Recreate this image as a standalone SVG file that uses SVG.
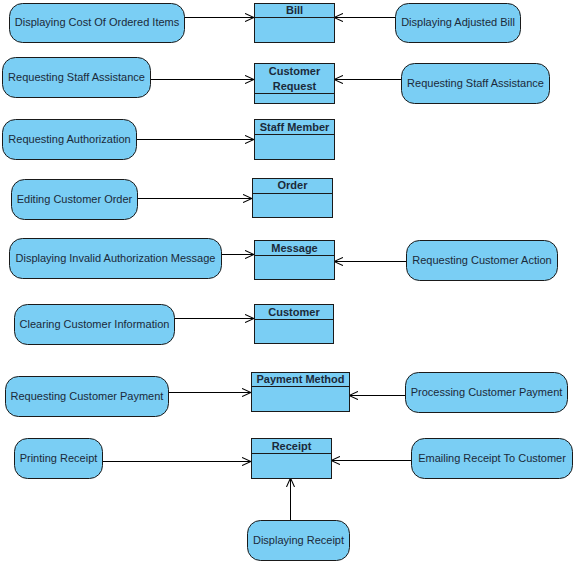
<svg xmlns="http://www.w3.org/2000/svg" width="575" height="564" viewBox="0 0 575 564">
  <style>
    .act { fill: #7acef4; stroke: #1a1a1a; stroke-width: 1; }
    .cls { fill: #7acef4; stroke: #1a1a1a; stroke-width: 1; }
    .div { stroke: #1a1a1a; stroke-width: 1; }
    .lbl { font-family: "Liberation Sans", Arial, sans-serif; font-size: 11px; fill: #1a2a3a; text-anchor: middle; }
    .hdr { font-family: "Liberation Sans", Arial, sans-serif; font-size: 11px; font-weight: bold; fill: #1a2a3a; text-anchor: middle; }
    .edge { stroke: #000; stroke-width: 1; fill: none; marker-end: url(#open); }
  </style>
  <defs>
    <marker id="open" viewBox="0 0 10 10" refX="10" refY="5" markerWidth="9" markerHeight="9" markerUnits="userSpaceOnUse" orient="auto">
      <path d="M0,0.5 L10,5 L0,9.5" fill="none" stroke="#000" stroke-width="1.2"/>
    </marker>
  </defs>
  <rect width="575" height="564" fill="#fff"/>

  <!-- connectors -->
  <g id="connectors">
    <line class="edge" x1="184" y1="17.5" x2="254" y2="17.5"/>
    <line class="edge" x1="395" y1="17.5" x2="334" y2="17.5"/>
    <line class="edge" x1="150" y1="79.5" x2="254" y2="79.5"/>
    <line class="edge" x1="402" y1="79.5" x2="334" y2="79.5"/>
    <line class="edge" x1="136" y1="139.5" x2="254" y2="139.5"/>
    <line class="edge" x1="137" y1="198.5" x2="252" y2="198.5"/>
    <line class="edge" x1="221" y1="254.5" x2="254" y2="254.5"/>
    <line class="edge" x1="406" y1="261.5" x2="334" y2="261.5"/>
    <line class="edge" x1="174" y1="318.5" x2="254" y2="318.5"/>
    <line class="edge" x1="168" y1="392.5" x2="251" y2="392.5"/>
    <line class="edge" x1="405" y1="395.5" x2="349" y2="395.5"/>
    <line class="edge" x1="102" y1="461.5" x2="251" y2="461.5"/>
    <line class="edge" x1="411" y1="460.5" x2="331" y2="460.5"/>
    <line class="edge" x1="290.5" y1="520" x2="290.5" y2="478"/>
  </g>

  <!-- classes -->
  <g id="bill">
    <rect class="cls" x="254.5" y="3.5" width="80" height="39"/>
    <line class="div" x1="254.5" y1="17.5" x2="334.5" y2="17.5"/>
    <text class="hdr" x="294.5" y="14">Bill</text>
  </g>
  <g id="customer-request">
    <rect class="cls" x="254.5" y="63.5" width="80" height="40"/>
    <line class="div" x1="254.5" y1="93.5" x2="334.5" y2="93.5"/>
    <text class="hdr" x="294.5" y="75">Customer</text>
    <text class="hdr" x="294.5" y="90">Request</text>
  </g>
  <g id="staff-member">
    <rect class="cls" x="254.5" y="119.5" width="80" height="40"/>
    <line class="div" x1="254.5" y1="134.5" x2="334.5" y2="134.5"/>
    <text class="hdr" x="294.5" y="131">Staff Member</text>
  </g>
  <g id="order">
    <rect class="cls" x="252.5" y="178.5" width="80" height="39"/>
    <line class="div" x1="252.5" y1="193.5" x2="332.5" y2="193.5"/>
    <text class="hdr" x="292.5" y="189">Order</text>
  </g>
  <g id="message">
    <rect class="cls" x="254.5" y="240.5" width="80" height="39"/>
    <line class="div" x1="254.5" y1="255.5" x2="334.5" y2="255.5"/>
    <text class="hdr" x="294.5" y="252">Message</text>
  </g>
  <g id="customer">
    <rect class="cls" x="254.5" y="304.5" width="79" height="39"/>
    <line class="div" x1="254.5" y1="319.5" x2="333.5" y2="319.5"/>
    <text class="hdr" x="294" y="316">Customer</text>
  </g>
  <g id="payment-method">
    <rect class="cls" x="251.5" y="372.5" width="98" height="39"/>
    <line class="div" x1="251.5" y1="386.5" x2="349.5" y2="386.5"/>
    <text class="hdr" x="300.5" y="383">Payment Method</text>
  </g>
  <g id="receipt">
    <rect class="cls" x="251.5" y="438.5" width="80" height="40"/>
    <line class="div" x1="251.5" y1="453.5" x2="331.5" y2="453.5"/>
    <text class="hdr" x="291.5" y="450">Receipt</text>
  </g>

  <!-- activities -->
  <g id="displaying-cost">
    <rect class="act" x="9.5" y="3.5" width="175" height="39" rx="13"/>
    <text class="lbl" x="97" y="26">Displaying Cost Of Ordered Items</text>
  </g>
  <g id="displaying-adjusted-bill">
    <rect class="act" x="395.5" y="3.5" width="125" height="39" rx="13"/>
    <text class="lbl" x="458" y="26">Displaying Adjusted Bill</text>
  </g>
  <g id="requesting-staff-left">
    <rect class="act" x="2.5" y="57.5" width="148" height="40" rx="13"/>
    <text class="lbl" x="76.5" y="81">Requesting Staff Assistance</text>
  </g>
  <g id="requesting-staff-right">
    <rect class="act" x="401.5" y="63.5" width="148" height="40" rx="13"/>
    <text class="lbl" x="475.5" y="87">Requesting Staff Assistance</text>
  </g>
  <g id="requesting-authorization">
    <rect class="act" x="2.5" y="119.5" width="134" height="40" rx="13"/>
    <text class="lbl" x="69.5" y="143">Requesting Authorization</text>
  </g>
  <g id="editing-order">
    <rect class="act" x="11.5" y="179.5" width="126" height="40" rx="13"/>
    <text class="lbl" x="74.5" y="203">Editing Customer Order</text>
  </g>
  <g id="displaying-invalid">
    <rect class="act" x="9.5" y="238.5" width="212" height="40" rx="13"/>
    <text class="lbl" x="115.5" y="262">Displaying Invalid Authorization Message</text>
  </g>
  <g id="requesting-action">
    <rect class="act" x="406.5" y="240.5" width="151" height="40" rx="13"/>
    <text class="lbl" x="482" y="264">Requesting Customer Action</text>
  </g>
  <g id="clearing-info">
    <rect class="act" x="14.5" y="304.5" width="160" height="40" rx="13"/>
    <text class="lbl" x="94.5" y="328">Clearing Customer Information</text>
  </g>
  <g id="requesting-payment">
    <rect class="act" x="5.5" y="376.5" width="163" height="40" rx="13"/>
    <text class="lbl" x="87" y="400">Requesting Customer Payment</text>
  </g>
  <g id="processing-payment">
    <rect class="act" x="405.5" y="372.5" width="162" height="40" rx="13"/>
    <text class="lbl" x="486.5" y="396">Processing Customer Payment</text>
  </g>
  <g id="printing-receipt">
    <rect class="act" x="14.5" y="438.5" width="88" height="40" rx="13"/>
    <text class="lbl" x="58.5" y="462">Printing Receipt</text>
  </g>
  <g id="emailing-receipt">
    <rect class="act" x="411.5" y="438.5" width="161" height="40" rx="13"/>
    <text class="lbl" x="492" y="462">Emailing Receipt To Customer</text>
  </g>
  <g id="displaying-receipt">
    <rect class="act" x="247.5" y="520.5" width="102" height="40" rx="13"/>
    <text class="lbl" x="298.5" y="544">Displaying Receipt</text>
  </g>
</svg>
